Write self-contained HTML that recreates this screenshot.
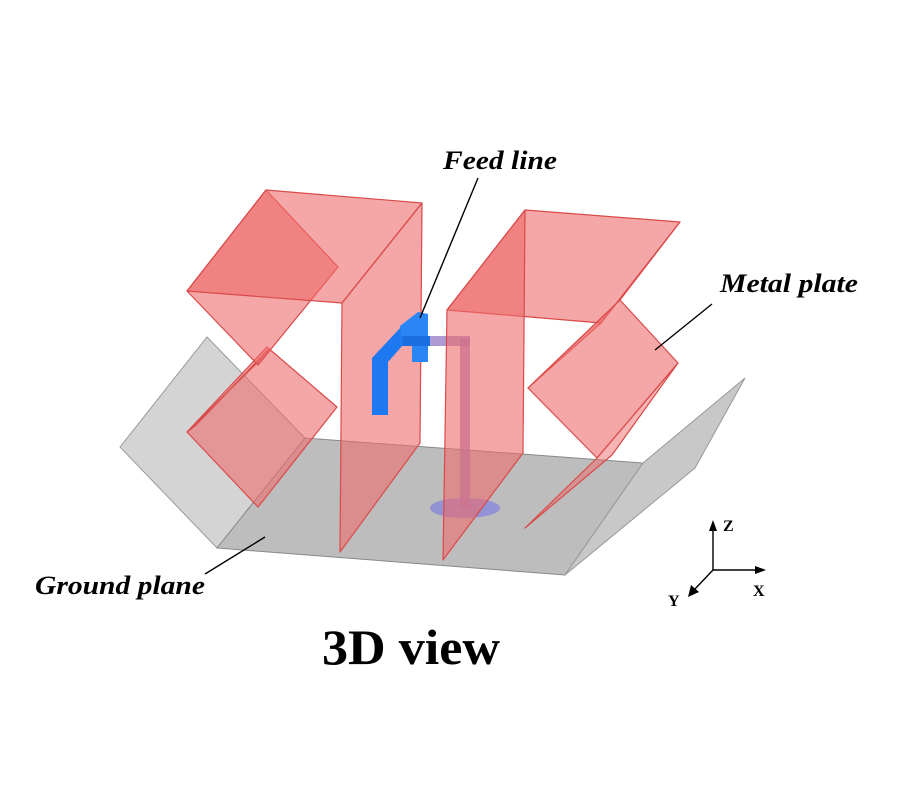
<!DOCTYPE html>
<html><head><meta charset="utf-8"><style>
html,body{margin:0;padding:0;background:#fff}
svg{display:block}
text{font-family:"Liberation Serif",serif;font-weight:bold}
</style></head><body>
<svg width="900" height="800" viewBox="0 0 900 800" xmlns="http://www.w3.org/2000/svg">
<!-- ground plane -->
<polygon points="120,447 207,337 305,438 217,548" fill="#d4d4d4" stroke="#999" stroke-width="1"/>
<polygon points="217,548 305,438 643,463 565,575" fill="#bdbdbd" stroke="#888" stroke-width="1"/>
<polygon points="565,575 643,463 745,378 695,468" fill="#c8c8c8" stroke="#999" stroke-width="1"/>
<!-- ground hole -->
<ellipse cx="465" cy="508" rx="35" ry="10" fill="#8080e0" fill-opacity="0.7"/>
<!-- purple feed bar behind plate -->
<rect x="460" y="338" width="10" height="170" fill="#9a82c8" fill-opacity="0.8"/>
<rect x="425" y="336" width="45" height="10" fill="#9a82c8" fill-opacity="0.8"/>
<g fill="#ee6a6a" fill-opacity="0.6" stroke="#d94a4a" stroke-width="1.2" stroke-linejoin="round">
<!-- left structure -->
<polygon points="187,432 267,347 337,407 258,507"/>
<polygon points="187,432 258,362 268,350 196,425" fill-opacity="0.5"/>
<polygon points="187,291 266,190 338,267 258,365"/>
<polygon points="266,190 422,203 342,303 187,291"/>
<polygon points="342,303 422,203 420,443 340,552"/>
<!-- right structure -->
<polygon points="447,310 525,210 680,222 601,323"/>
<polygon points="447,310 525,210 523,453 443,560"/>
<polygon points="601,323 680,222 620,300 528,388" fill-opacity="0.45"/>
<polygon points="528,388 620,300 678,363 597,458"/>
<polygon points="525,528 597,458 678,363 612,455" fill-opacity="0.5"/>
</g>
<!-- blue feed line (in front) -->
<polygon points="372,358 402,326 402,346 388,362 388,415 372,415" fill="#1e78f0"/>
<polygon points="400,326 418,312 428,314 428,362 412,362 412,346 402,346" fill="#2a86f5"/>
<polygon points="402,346 430,346 430,336 402,336" fill="#1a6ee0"/>
<!-- leader lines -->
<g stroke="#000" stroke-width="1.4">
<line x1="478" y1="178" x2="420" y2="318"/>
<line x1="712" y1="304" x2="655" y2="350"/>
<line x1="205" y1="574" x2="265" y2="537"/>
<line x1="713" y1="570" x2="713" y2="528"/>
<line x1="713" y1="570" x2="757" y2="570"/>
<line x1="713" y1="570" x2="694" y2="590"/>
</g>
<polygon points="713,520 709,531 717,531" fill="#000"/>
<polygon points="766,570 755,566 755,574" fill="#000"/>
<polygon points="688,597 691,585 699,592" fill="#000"/>
<text x="443" y="169" font-size="26" font-style="italic" textLength="114" lengthAdjust="spacingAndGlyphs">Feed line</text>
<text x="720" y="292" font-size="26" font-style="italic" textLength="138" lengthAdjust="spacingAndGlyphs">Metal plate</text>
<text x="35" y="594" font-size="26" font-style="italic" textLength="170" lengthAdjust="spacingAndGlyphs">Ground plane</text>
<text x="723" y="531" font-size="16">Z</text>
<text x="753" y="596" font-size="16">X</text>
<text x="668" y="606" font-size="16">Y</text>
<text x="322" y="664" font-size="50" textLength="178" lengthAdjust="spacingAndGlyphs">3D view</text>
</svg>
</body></html>
